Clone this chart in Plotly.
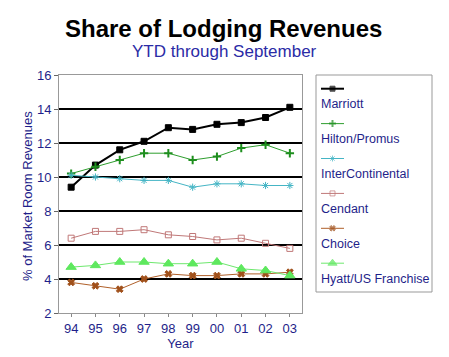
import plotly.graph_objects as go

years = ["94", "95", "96", "97", "98", "99", "00", "01", "02", "03"]
marriott = [9.4, 10.7, 11.6, 12.1, 12.9, 12.8, 13.1, 13.2, 13.5, 14.1]
hilton = [10.2, 10.6, 11.0, 11.4, 11.4, 11.0, 11.2, 11.7, 11.9, 11.4]
intercontinental = [10.1, 10.0, 9.9, 9.8, 9.8, 9.4, 9.6, 9.6, 9.5, 9.5]
cendant = [6.4, 6.8, 6.8, 6.9, 6.6, 6.5, 6.3, 6.4, 6.1, 5.8]
choice = [3.8, 3.6, 3.4, 4.0, 4.3, 4.2, 4.2, 4.3, 4.3, 4.4]
hyatt = [4.7, 4.8, 5.0, 5.0, 4.9, 4.9, 5.0, 4.6, 4.5, 4.2]
grid_vals = [4, 6, 8, 10, 12, 14]
y_ticks = [2, 4, 6, 8, 10, 12, 14, 16]

names = ["Marriott", "Hilton/Promus", "InterContinental", "Cendant", "Choice", "Hyatt/US Franchise"]
values = [marriott, hilton, intercontinental, cendant, choice, hyatt]
styles = [
    dict(color="#000000", width=2, symbol="square", size=6, mcolor="#000000"),
    dict(color="#2e9e2e", width=1, symbol="cross-thin-open", size=6, mcolor="#1e8e1e"),
    dict(color="#45b5c5", width=1, symbol="asterisk-open", size=6, mcolor="#45b5c5"),
    dict(color="#c07878", width=1, symbol="square-open", size=6, mcolor="#c07878"),
    dict(color="#b0602a", width=1, symbol="x", size=6, mcolor="#a0501a"),
    dict(color="#6ee86e", width=1, symbol="triangle-up", size=9, mcolor="#5ee85e"),
]

NAVY = "#1f1f8a"
FONT = "Liberation Sans, Arial, sans-serif"

fig = go.Figure()
for name, vals, st in zip(names, values, styles):
    lw = 2 if st["symbol"] == "cross-thin-open" else 1
    fig.add_trace(go.Scatter(
        x=years, y=vals, mode="lines+markers", name=name,
        line=dict(color=st["color"], width=st["width"]),
        marker=dict(symbol=st["symbol"], size=st["size"], color=st["mcolor"],
                    line=dict(color=st["mcolor"], width=lw)),
        showlegend=False, xaxis="x", yaxis="y"))

# custom legend: sample line above label
for i, (name, st) in enumerate(zip(names, styles)):
    lw = 2 if st["symbol"] == "cross-thin-open" else 1
    fig.add_trace(go.Scatter(
        x=[-1, 0, 1], y=[i, i, i], mode="lines+markers",
        line=dict(color=st["color"], width=st["width"]),
        marker=dict(symbol=st["symbol"], size=[0, st["size"] - 1, 0], color=st["mcolor"],
                    line=dict(color=st["mcolor"], width=lw)),
        showlegend=False, hoverinfo="skip", xaxis="x2", yaxis="y2"))
    fig.add_annotation(x=-1, y=i + 0.45, xref="x2", yref="y2", text=name,
                       showarrow=False, xanchor="left", yanchor="middle", xshift=-2,
                       font=dict(family=FONT, size=12.5, color=NAVY))

W = 390.0
for g in grid_vals:
    fig.add_shape(type="line", xref="x domain", yref="y", x0=0, x1=1, y0=g, y1=g,
                  line=dict(color="black", width=2), layer="below")

fig.add_shape(type="rect", xref="paper", yref="paper",
              x0=(316 - 59) / W, x1=(432 - 59) / W, y0=(313 - 292) / 238, y1=1.0,
              line=dict(color="#999999", width=1))

# page body has an 8px default margin, so the figure is drawn 8px in from the corner
fig.update_layout(
    width=441, height=349,
    margin=dict(l=51, r=0, t=67, b=44, autoexpand=False),
    paper_bgcolor="white", plot_bgcolor="white",
    font=dict(family=FONT, color=NAVY),
    xaxis=dict(domain=[0, 243 / W], type="category", range=[-0.5, 9.5], automargin=False,
               showline=True, linecolor="#999999", mirror=True, showgrid=False,
               ticks="outside", ticklen=3, tickcolor="#888888",
               tickfont=dict(size=13, color=NAVY),
               title=dict(text="Year", font=dict(size=13, color=NAVY), standoff=2)),
    yaxis=dict(range=[2, 16], tickvals=y_ticks, showline=True, linecolor="#999999",
               mirror=True, showgrid=False, zeroline=False, ticks="outside", ticklen=4,
               automargin=False,
               tickcolor="#666666", tickfont=dict(size=13, color=NAVY)),
    xaxis2=dict(domain=[(321 - 59) / W, (344 - 59) / W], range=[-1, 1], visible=False,
                fixedrange=True, anchor="y2"),
    yaxis2=dict(domain=[0, 1], range=[6.427, -0.393], visible=False, fixedrange=True,
                anchor="x2"),
)

fig.add_annotation(xref="paper", yref="paper", x=(27 - 59) / W, y=(313 - 196) / 238,
                   xanchor="center", yanchor="middle", textangle=-90,
                   text="% of Market Room Revenues", showarrow=False,
                   font=dict(family=FONT, size=13, color=NAVY))
fig.add_annotation(xref="paper", yref="paper", x=(223 - 59) / W, y=(313 - 28) / 238,
                   xanchor="center", yanchor="middle", text="<b>Share of Lodging Revenues</b>",
                   showarrow=False, font=dict(family=FONT, size=24, color="black"))
fig.add_annotation(xref="paper", yref="paper", x=(224 - 59) / W, y=(313 - 52) / 238,
                   xanchor="center", yanchor="middle", text="YTD through September",
                   showarrow=False, font=dict(family=FONT, size=17, color="#2b2ba6"))

fig.write_html("out.html")
